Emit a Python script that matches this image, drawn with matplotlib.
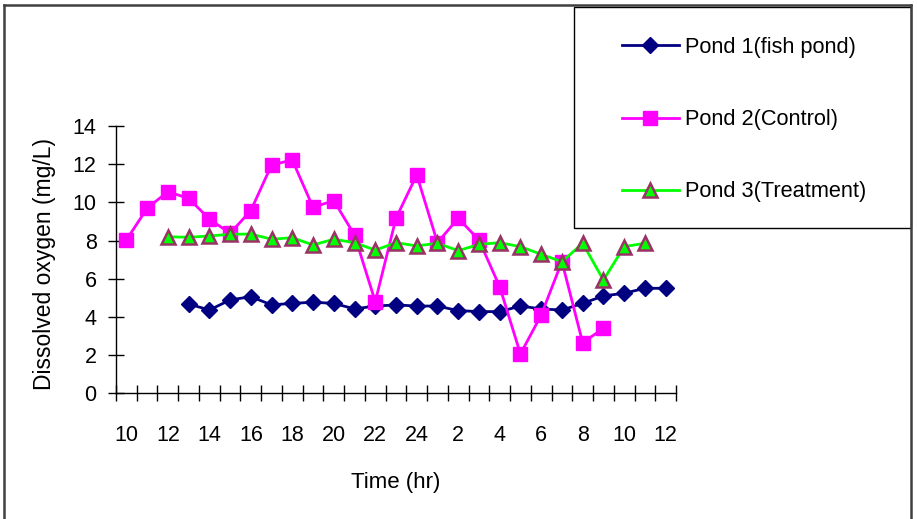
import numpy as np
import matplotlib.pyplot as plt
from matplotlib.patches import Rectangle
from matplotlib.lines import Line2D

plt.rcParams['font.family'] = ['Liberation Sans', 'DejaVu Sans']

# Time of sampling (hr), 10:00 on day 1 to 12:00 on day 2
hours = [10, 11, 12, 13, 14, 15, 16, 17, 18, 19, 20, 21, 22, 23, 24,
         1, 2, 3, 4, 5, 6, 7, 8, 9, 10, 11, 12]
nan = np.nan

pond1 = [nan, nan, nan, 4.68, 4.36, 4.89, 5.06, 4.63, 4.71, 4.77, 4.71, 4.42, 4.57, 4.63, 4.57,
         4.57, 4.33, 4.28, 4.28, 4.57, 4.42, 4.36, 4.71, 5.10, 5.24, 5.50, 5.50]
pond2 = [8.03, 9.69, 10.56, 10.21, 9.13, 8.38, 9.57, 11.96, 12.22, 9.74, 10.09, 8.29, 4.80, 9.17, 11.44,
         7.89, 9.17, 8.03, 5.58, 2.06, 4.10, 6.90, 2.65, 3.40, nan, nan, nan]
pond3 = [nan, nan, 8.20, 8.17, 8.24, 8.33, 8.34, 8.07, 8.15, 7.77, 8.07, 7.89, 7.50, 7.89, 7.72,
         7.86, 7.47, 7.80, 7.89, 7.68, 7.28, 6.89, 7.86, 5.93, 7.68, 7.86, nan]

labels = ['Pond 1(fish pond)', 'Pond 2(Control)', 'Pond 3(Treatment)']

W, H = 917, 519
fig = plt.figure(figsize=(W / 100, H / 100), dpi=100)
ax = fig.add_axes([116 / W, 1 - 393.3 / H, 560 / W, 267.3 / H])

x = np.arange(len(hours))
l1, = ax.plot(x, pond1, color='#000080', lw=2, marker='D', ms=8,
              mfc='#000080', mec='#000080')
l2, = ax.plot(x, pond2, color='#FF00FF', lw=2, marker='s', ms=10,
              mfc='#FF00FF', mec='#FF00FF')
l3, = ax.plot(x, pond3, color='#00FF00', lw=2, marker='^', ms=10,
              mfc='#00FF00', mec='#993366', mew=1.8)

ax.set_xlim(-0.5, len(hours) - 0.5)
ax.set_ylim(0, 14)
ax.set_yticks(np.arange(0, 15, 2))

# tick marks between categories, labels every second hour
ax.set_xticks(np.arange(-0.5, len(hours), 1))
ax.set_xticklabels([])
ax.set_xticks(x[::2], minor=True)
ax.set_xticklabels([str(h) for h in hours[::2]], minor=True)
ax.tick_params(axis='x', which='major', direction='inout', length=11.5, width=1)
ax.tick_params(axis='x', which='minor', length=0, pad=22.5, labelsize=15.5)
ax.tick_params(axis='y', direction='inout', length=12, width=1, pad=8, labelsize=15.5)

for s in ['top', 'right']:
    ax.spines[s].set_visible(False)
for s in ['left', 'bottom']:
    ax.spines[s].set_linewidth(1)

ax.set_xlabel('Time (hr)', fontsize=16, va='center')
ax.xaxis.set_label_coords(0.5, -0.332)
ax.set_ylabel('Dissolved oxygen (mg/L)', fontsize=16.5, va='center')
ax.yaxis.set_label_coords(-0.127, 0.484)

# chart border and legend box
border = '#404040'
fig.add_artist(Line2D([4 / W, 4 / W], [0, 1 - 5 / H], color=border, lw=1.8))
fig.add_artist(Line2D([4 / W, 911 / W], [1 - 5 / H, 1 - 5 / H], color=border, lw=1.8))
fig.add_artist(Line2D([911 / W, 911 / W], [0, 1 - 5 / H], color=border, lw=1.8))
fig.add_artist(Rectangle((574 / W, 1 - 228 / H), 337 / W, 221 / H,
                         transform=fig.transFigure, fill=False, ec='black', lw=1))

fig.legend([l1, l2, l3], labels, loc='upper left', bbox_to_anchor=(622 / W, 1 - 37 / H),
           frameon=False, borderpad=0, fontsize=15.7, handlelength=2.6,
           handletextpad=0.3, labelspacing=2.35, borderaxespad=0)

fig.savefig('out.png', dpi=100)
